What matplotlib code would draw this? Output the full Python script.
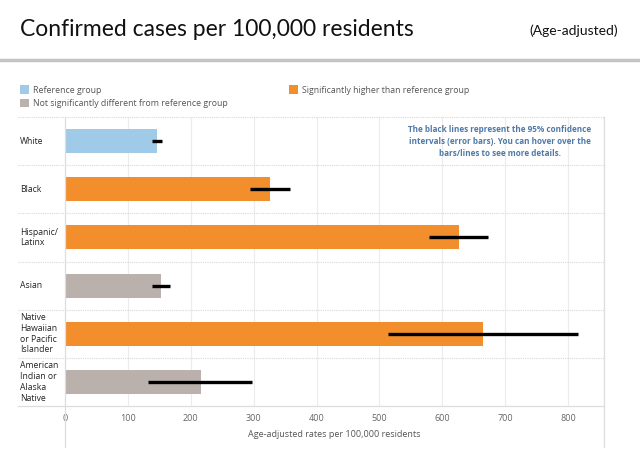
import matplotlib
matplotlib.use("Agg")
import matplotlib.pyplot as plt
from matplotlib.patches import Patch
from matplotlib.lines import Line2D

plt.rcParams['font.family'] = ['Open Sans', 'DejaVu Sans']

categories = ["White", "Black", "Hispanic/\nLatinx", "Asian",
              "Native\nHawaiian\nor Pacific\nIslander",
              "American\nIndian or\nAlaska\nNative"]
rates = [146, 326, 626, 153, 664, 216]
ci_low = [139, 294, 579, 139, 513, 132]
ci_high = [155, 358, 673, 167, 816, 298]
groups = ["ref", "higher", "higher", "notsig", "higher", "notsig"]
xticks = [0, 100, 200, 300, 400, 500, 600, 700, 800]

group_colors = {"ref": "#a0cbe8", "higher": "#f28e2b", "notsig": "#bab0ac"}
group_labels = {"ref": "Reference group",
                "notsig": "Not significantly different from reference group",
                "higher": "Significantly higher than reference group"}

W, H = 640, 454
fig = plt.figure(figsize=(W / 100, H / 100), dpi=100)

def fx(px):
    return px / W

def fy(py):
    return 1 - py / H

left, right, top, bottom = 65, 604, 117, 406
ax = fig.add_axes([fx(left), fy(bottom), fx(right - left), (bottom - top) / H])

n = len(categories)
ypos = list(range(n))
colors = [group_colors[g] for g in groups]
ax.barh(ypos, rates, height=0.5, color=colors, zorder=2)
ax.hlines(ypos, ci_low, ci_high, color="black", linewidth=2.4, zorder=3)

ax.set_xlim(0, 857)
ax.set_ylim(n - 0.5, -0.5)
ax.set_xticks(xticks)
ax.set_xticklabels([str(t) for t in xticks], fontsize=6.5, color="#666666")
ax.tick_params(axis='x', length=0, pad=6)
ax.set_yticks([])
for t in xticks[1:]:
    ax.axvline(t, color="#ececec", linewidth=0.8, zorder=1)

for s in ["top", "left", "right", "bottom"]:
    ax.spines[s].set_visible(False)

# row separators (dotted), extending into the label column
xl = (18 - left) / (right - left)
for k in range(n):
    y = k - 0.5
    ax.plot([xl, 1], [y, y], transform=ax.get_yaxis_transform(),
            color="#d8d8d8", linewidth=0.8, linestyle=(0, (1, 1)),
            clip_on=False, zorder=1)
ax.plot([xl, 1], [n - 0.5, n - 0.5], transform=ax.get_yaxis_transform(),
        color="#dddddd", linewidth=0.9, clip_on=False, zorder=1)

# category labels
for i, c in enumerate(categories):
    ax.text(xl + 0.004, i, c, transform=ax.get_yaxis_transform(),
            ha="left", va="center", fontsize=6.2, color="#222222",
            linespacing=1.25)

# vertical frame lines extending to bottom
fig.add_artist(Line2D([fx(left), fx(left)], [fy(447), fy(top)],
                      color="#dddddd", linewidth=0.9))
fig.add_artist(Line2D([fx(right), fx(right)], [fy(447), fy(top)],
                      color="#dddddd", linewidth=0.9))

ax.set_xlabel("Age-adjusted rates per 100,000 residents", fontsize=6.5,
              color="#555555", labelpad=5)

ax.text(0.807, 0.972,
        "The black lines represent the 95% confidence\n"
        "intervals (error bars). You can hover over the\n"
        "bars/lines to see more details.",
        transform=ax.transAxes, ha="center", va="top", fontsize=5.9,
        color="#4e79a7", fontweight="bold", linespacing=1.45)

# title area
fig.text(fx(20), fy(29), "Confirmed cases per 100,000 residents",
         fontsize=16.5, color="#111111", ha="left", va="center",
         family=["Lato", "DejaVu Sans"])
fig.text(fx(618), fy(31), "(Age-adjusted)", fontsize=10, color="#111111",
         ha="right", va="center", family=["Lato", "DejaVu Sans"])
fig.add_artist(Line2D([0, 1], [fy(60), fy(60)], color="#c4c4c4", linewidth=2.5))

order = ["ref", "notsig", "higher"]
handles = [Patch(facecolor=group_colors[g], edgecolor="none",
                 label=group_labels[g]) for g in order]
fig.legend(handles=handles, loc="upper left",
           bbox_to_anchor=(fx(14), fy(79)), ncol=2, frameon=False,
           fontsize=6.3, labelcolor="#555555", handlelength=1.0,
           handleheight=1.2, handletextpad=0.5, columnspacing=7.0,
           labelspacing=0.45, borderpad=0.2)

fig.savefig("out.png", dpi=100)
